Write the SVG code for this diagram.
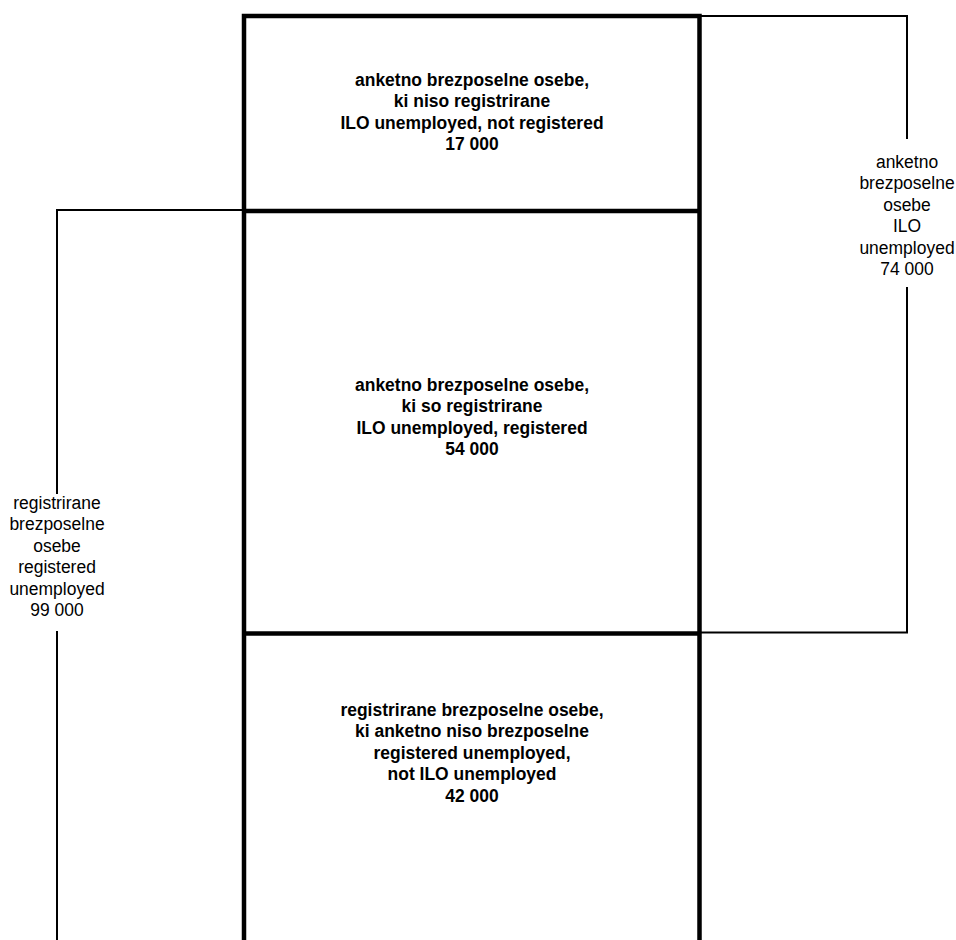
<svg xmlns="http://www.w3.org/2000/svg" width="956" height="940" viewBox="0 0 956 940">
<style>
.thick{stroke:#000;stroke-width:4.5;fill:none}
.thin{stroke:#000;stroke-width:2;fill:none}
text{font-family:"Liberation Sans",Arial,sans-serif;font-size:19px;fill:#000;text-anchor:middle}
.b{font-weight:bold}
</style>
<rect width="956" height="940" fill="#fff"/>
<g id="connectors">
<polyline class="thin" points="699,16 907,16 907,139"/>
<polyline class="thin" points="907,287 907,632.5 699,632.5"/>
<polyline class="thin" points="244,210 57,210 57,494"/>
<line class="thin" x1="57" y1="631" x2="57" y2="940"/>
</g>
<g id="box-top">
<polyline class="thick" points="244,940 244,16 699.5,16 699.5,940"/>
<line class="thick" x1="244" y1="211" x2="699.5" y2="211"/>
<g transform="translate(472,0) scale(0.92,1)">
<text class="b" x="0" y="86">anketno brezposelne osebe,</text>
<text class="b" x="0" y="107.5">ki niso registrirane</text>
<text class="b" x="0" y="129">ILO unemployed, not registered</text>
<text class="b" x="0" y="150.5">17 000</text>
</g>
</g>
<g id="box-middle">
<line class="thick" x1="244" y1="633.5" x2="699.5" y2="633.5"/>
<g transform="translate(472,0) scale(0.92,1)">
<text class="b" x="0" y="391">anketno brezposelne osebe,</text>
<text class="b" x="0" y="412.5">ki so registrirane</text>
<text class="b" x="0" y="434">ILO unemployed, registered</text>
<text class="b" x="0" y="455.5">54 000</text>
</g>
</g>
<g id="box-bottom">
<g transform="translate(472,0) scale(0.92,1)">
<text class="b" x="0" y="716">registrirane brezposelne osebe,</text>
<text class="b" x="0" y="737.5">ki anketno niso brezposelne</text>
<text class="b" x="0" y="759">registered unemployed,</text>
<text class="b" x="0" y="780.5">not ILO unemployed</text>
<text class="b" x="0" y="802">42 000</text>
</g>
</g>
<g id="label-ilo">
<g transform="translate(907,0) scale(0.92,1)">
<text x="0" y="168">anketno</text>
<text x="0" y="189.5">brezposelne</text>
<text x="0" y="211">osebe</text>
<text x="0" y="232.5">ILO</text>
<text x="0" y="254">unemployed</text>
<text x="0" y="275.5">74 000</text>
</g>
</g>
<g id="label-registered">
<g transform="translate(57,0) scale(0.92,1)">
<text x="0" y="509">registrirane</text>
<text x="0" y="530.5">brezposelne</text>
<text x="0" y="552">osebe</text>
<text x="0" y="573.5">registered</text>
<text x="0" y="595">unemployed</text>
<text x="0" y="616.5">99 000</text>
</g>
</g>
</svg>
